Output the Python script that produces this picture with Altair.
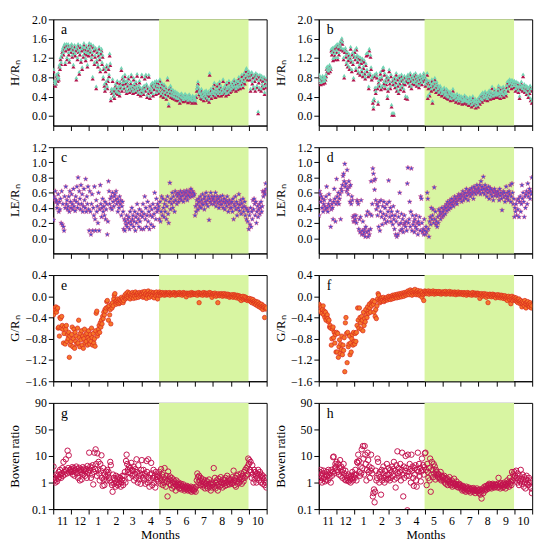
import altair as alt
import pandas as pd

# ---------------- axis / calendar data ----------------
MONTH_LABELS = ["11", "12", "1", "2", "3", "4", "5", "6", "7", "8", "9", "10"]
MONTH_DAYS = [30, 31, 31, 28, 31, 30, 31, 30, 31, 31, 30, 31]
MONTH_START = [0]
for d in MONTH_DAYS:
    MONTH_START.append(MONTH_START[-1] + d)
GROW_START_MONTH = 6   # May
GROW_END_MONTH = 11    # up to Oct 1

# ---------------- panel data (one list per month, Nov..Oct) ----------------
H_A = [
    [0.95, 0.72, 0.68, 0.65, 0.70, 0.85, 0.80, 0.75, 0.88, 0.78, 1.05, 1.00, 1.20, 1.10, 1.25, 1.35, 1.40, 1.30, 1.45, 1.48, 1.10, 1.38, 1.48, 1.20, 1.42, 1.48, 1.30, 1.15, 1.42, 1.45],
    [1.35, 1.48, 1.25, 1.40, 1.05, 1.32, 1.46, 1.28, 1.38, 0.78, 1.42, 1.20, 1.48, 1.35, 0.90, 1.30, 1.45, 1.15, 1.38, 1.00, 1.42, 1.25, 1.50, 1.32, 1.40, 1.18, 1.45, 1.30, 1.05, 1.38, 1.28],
    [1.50, 1.42, 1.35, 1.48, 1.20, 1.30, 0.80, 1.45, 1.38, 1.10, 1.25, 1.40, 0.60, 1.15, 1.35, 1.05, 1.28, 1.42, 1.20, 0.95, 1.32, 1.38, 1.10, 1.25, 0.80, 1.00, 0.65, 0.55, 0.95, 0.70, 1.05],
    [0.60, 0.75, 1.00, 0.85, 1.28, 1.08, 0.35, 0.55, 0.50, 0.75, 0.55, 0.45, 0.40, 0.55, 0.65, 0.50, 0.60, 0.72, 0.48, 0.55, 0.60, 0.45, 0.70, 0.62, 0.98, 0.55, 0.80, 0.68],
    [0.75, 0.60, 0.85, 0.70, 0.55, 0.50, 0.72, 0.65, 0.80, 0.58, 0.52, 0.60, 0.70, 0.85, 0.55, 0.62, 0.50, 0.78, 0.66, 0.58, 0.52, 0.70, 0.60, 0.86, 0.55, 0.48, 0.62, 0.72, 0.58, 0.45, 0.52],
    [0.85, 0.58, 0.52, 0.48, 0.62, 0.80, 0.55, 0.85, 0.65, 0.42, 0.60, 0.50, 0.84, 0.55, 0.40, 0.58, 0.65, 0.52, 0.68, 0.45, 0.62, 0.58, 0.70, 0.65, 0.48, 0.72, 0.55, 0.62, 0.70, 0.50],
    [0.55, 0.75, 0.62, 0.45, 0.68, 0.50, 0.58, 0.42, 0.65, 0.55, 0.48, 0.60, 0.38, 0.52, 0.78, 0.45, 0.24, 0.58, 0.50, 0.62, 0.42, 0.55, 0.48, 0.40, 0.52, 0.45, 0.38, 0.50, 0.44, 0.36, 0.48],
    [0.42, 0.35, 0.45, 0.40, 0.30, 0.44, 0.38, 0.46, 0.36, 0.42, 0.33, 0.40, 0.37, 0.45, 0.34, 0.39, 0.42, 0.36, 0.31, 0.38, 0.44, 0.35, 0.40, 0.33, 0.37, 0.30, 0.41, 0.36, 0.32, 0.38],
    [0.35, 0.30, 0.42, 0.55, 0.62, 0.70, 0.58, 0.48, 0.52, 0.45, 0.40, 0.55, 0.38, 0.48, 0.42, 0.35, 0.50, 0.45, 0.40, 0.52, 0.48, 0.36, 0.44, 0.50, 0.32, 0.88, 0.45, 0.55, 0.40, 0.48, 0.52],
    [0.60, 0.45, 0.68, 0.50, 0.42, 0.55, 0.48, 0.65, 0.52, 0.45, 0.58, 0.70, 0.50, 0.62, 0.45, 0.55, 0.48, 0.75, 0.52, 0.58, 0.62, 0.50, 0.45, 0.68, 0.55, 0.60, 0.48, 0.72, 0.58, 0.52, 0.65],
    [0.55, 0.62, 0.70, 0.58, 0.65, 0.75, 0.60, 0.68, 0.55, 0.72, 0.62, 0.58, 0.70, 0.80, 0.65, 0.60, 0.75, 0.68, 0.85, 0.72, 0.62, 0.78, 0.88, 0.70, 0.82, 0.95, 0.98, 0.85, 0.78, 0.90],
    [0.92, 0.85, 0.78, 0.55, 0.88, 0.90, 0.70, 0.82, 0.60, 0.85, 0.75, 0.55, 0.88, 0.80, 0.62, 0.85, 0.08, 0.72, 0.58, 0.84, 0.78, 0.55, 0.82, 0.65, 0.75, 0.60, 0.80, 0.48, 0.70, 0.62, 0.78],
]

H_B = [
    [0.85, 0.72, 0.80, 0.68, 0.78, 0.75, 0.82, 0.70, 0.76, 0.80, 0.72, 0.78, 0.85, 1.00, 0.95, 1.02, 0.92, 0.98, 1.05, 0.95, 1.00, 1.38, 1.30, 1.40, 1.18, 1.35, 1.42, 1.28, 1.20, 1.45],
    [1.35, 1.48, 1.20, 1.42, 1.30, 1.50, 1.45, 1.55, 1.40, 1.60, 1.52, 1.38, 1.20, 0.82, 1.35, 1.40, 1.25, 1.10, 1.32, 1.05, 1.18, 1.28, 1.00, 1.22, 1.42, 1.15, 0.95, 1.30, 1.10, 0.78, 1.25],
    [1.35, 1.20, 0.98, 1.40, 1.25, 1.15, 0.92, 1.22, 1.05, 0.88, 1.20, 1.12, 0.95, 1.18, 0.85, 1.02, 1.15, 0.90, 0.80, 1.08, 1.28, 0.95, 1.30, 0.85, 0.60, 1.38, 0.88, 1.25, 1.00, 0.78, 0.82],
    [0.30, 0.18, 0.35, 0.85, 0.58, 0.50, 0.88, 0.82, 0.60, 0.28, 0.72, 0.65, 0.78, 0.90, 0.58, 0.80, 0.62, 0.98, 1.00, 0.70, 0.88, 0.60, 0.75, 0.68, 0.82, 0.40, 0.55, 0.78],
    [0.95, 0.70, 0.60, 0.85, 0.22, 0.05, 0.75, 0.68, 0.05, 0.80, 0.62, 0.72, 0.88, 0.55, 0.78, 0.65, 0.50, 0.82, 0.70, 0.58, 0.75, 0.85, 0.62, 0.78, 0.70, 0.55, 0.82, 0.68, 0.40, 0.75, 0.80],
    [0.38, 0.85, 0.72, 0.80, 0.65, 0.88, 0.75, 0.60, 0.82, 0.70, 0.78, 0.85, 0.68, 0.72, 0.88, 0.80, 0.65, 0.75, 0.82, 0.70, 0.62, 0.78, 0.85, 0.72, 0.80, 0.68, 0.75, 0.82, 0.88, 0.78],
    [0.82, 0.65, 0.70, 0.75, 0.88, 0.40, 0.60, 0.72, 0.45, 0.68, 0.62, 0.55, 0.75, 0.30, 0.65, 0.70, 0.58, 0.78, 0.62, 0.52, 0.70, 0.65, 0.55, 0.60, 0.48, 0.58, 0.62, 0.52, 0.55, 0.45, 0.50],
    [0.55, 0.48, 0.58, 0.42, 0.50, 0.45, 0.55, 0.40, 0.52, 0.38, 0.48, 0.44, 0.50, 0.35, 0.42, 0.46, 0.40, 0.55, 0.36, 0.44, 0.38, 0.42, 0.32, 0.40, 0.45, 0.35, 0.38, 0.30, 0.42, 0.36],
    [0.35, 0.40, 0.32, 0.28, 0.38, 0.30, 0.35, 0.42, 0.30, 0.33, 0.38, 0.28, 0.36, 0.30, 0.25, 0.32, 0.38, 0.28, 0.35, 0.22, 0.30, 0.40, 0.25, 0.32, 0.28, 0.35, 0.20, 0.30, 0.26, 0.34, 0.22],
    [0.30, 0.38, 0.28, 0.42, 0.35, 0.45, 0.32, 0.48, 0.40, 0.36, 0.44, 0.50, 0.38, 0.42, 0.46, 0.35, 0.48, 0.40, 0.52, 0.45, 0.38, 0.50, 0.42, 0.60, 0.46, 0.40, 0.48, 0.55, 0.42, 0.50, 0.45],
    [0.48, 0.42, 0.55, 0.62, 0.45, 0.50, 0.40, 0.58, 0.48, 0.52, 0.45, 0.60, 0.42, 0.55, 0.48, 0.50, 0.45, 0.62, 0.70, 0.55, 0.72, 0.65, 0.75, 0.68, 0.72, 0.60, 0.74, 0.66, 0.70, 0.62],
    [0.72, 0.65, 0.55, 0.70, 0.62, 0.58, 0.68, 0.52, 0.60, 0.40, 0.65, 0.58, 0.70, 0.62, 0.55, 0.85, 0.60, 0.65, 0.52, 0.58, 0.62, 0.48, 0.60, 0.55, 0.42, 0.58, 0.50, 0.62, 0.35, 0.55, 0.30],
]

LE_C = [
    [0.24, 0.55, 0.52, 0.62, 0.48, 0.50, 0.40, 0.45, 0.58, 0.35, 0.48, 0.38, 0.52, 0.20, 0.62, 0.18, 0.45, 0.15, 0.10, 0.55, 0.40, 0.68, 0.45, 0.50, 0.38, 0.42, 0.55, 0.35, 0.62, 0.48],
    [0.40, 0.58, 0.45, 0.38, 0.65, 0.42, 0.50, 0.36, 0.55, 0.48, 0.68, 0.40, 0.80, 0.45, 0.62, 0.52, 0.38, 0.70, 0.45, 0.58, 0.35, 0.42, 0.65, 0.50, 0.40, 0.78, 0.35, 0.55, 0.45, 0.68, 0.38],
    [0.10, 0.62, 0.35, 0.05, 0.45, 0.58, 0.10, 0.40, 0.30, 0.68, 0.25, 0.10, 0.50, 0.35, 0.42, 0.20, 0.60, 0.10, 0.38, 0.70, 0.45, 0.28, 0.40, 0.52, 0.35, 0.42, 0.30, 0.48, 0.25, 0.38, 0.45],
    [0.05, 0.22, 0.75, 0.62, 0.45, 0.52, 0.40, 0.55, 0.38, 0.60, 0.48, 0.42, 0.55, 0.58, 0.50, 0.62, 0.45, 0.52, 0.35, 0.48, 0.40, 0.55, 0.45, 0.50, 0.30, 0.42, 0.48, 0.35],
    [0.12, 0.25, 0.10, 0.22, 0.18, 0.30, 0.15, 0.25, 0.20, 0.28, 0.12, 0.35, 0.22, 0.18, 0.40, 0.25, 0.30, 0.15, 0.22, 0.35, 0.10, 0.28, 0.20, 0.45, 0.32, 0.25, 0.15, 0.38, 0.22, 0.30, 0.12],
    [0.35, 0.28, 0.45, 0.12, 0.32, 0.55, 0.25, 0.40, 0.15, 0.30, 0.48, 0.22, 0.35, 0.12, 0.42, 0.30, 0.18, 0.38, 0.28, 0.45, 0.15, 0.32, 0.60, 0.40, 0.25, 0.52, 0.35, 0.45, 0.38, 0.42],
    [0.25, 0.48, 0.22, 0.35, 0.55, 0.30, 0.52, 0.40, 0.28, 0.45, 0.35, 0.50, 0.25, 0.42, 0.55, 0.32, 0.20, 0.48, 0.73, 0.38, 0.52, 0.45, 0.60, 0.40, 0.55, 0.48, 0.35, 0.62, 0.50, 0.58, 0.45],
    [0.55, 0.60, 0.48, 0.58, 0.52, 0.62, 0.55, 0.50, 0.60, 0.56, 0.48, 0.62, 0.58, 0.52, 0.60, 0.55, 0.63, 0.50, 0.58, 0.56, 0.62, 0.54, 0.60, 0.65, 0.58, 0.55, 0.62, 0.60, 0.56, 0.58],
    [0.30, 0.42, 0.35, 0.50, 0.45, 0.38, 0.52, 0.48, 0.42, 0.55, 0.40, 0.50, 0.46, 0.58, 0.44, 0.52, 0.38, 0.55, 0.48, 0.60, 0.45, 0.50, 0.42, 0.55, 0.24, 0.52, 0.48, 0.60, 0.45, 0.55, 0.50],
    [0.52, 0.45, 0.55, 0.48, 0.60, 0.42, 0.50, 0.55, 0.46, 0.52, 0.40, 0.48, 0.55, 0.44, 0.50, 0.45, 0.56, 0.40, 0.48, 0.52, 0.38, 0.46, 0.50, 0.42, 0.55, 0.48, 0.35, 0.45, 0.50, 0.40, 0.46],
    [0.40, 0.48, 0.35, 0.52, 0.25, 0.45, 0.42, 0.55, 0.38, 0.48, 0.30, 0.45, 0.40, 0.58, 0.36, 0.44, 0.50, 0.32, 0.46, 0.40, 0.52, 0.35, 0.42, 0.48, 0.30, 0.40, 0.25, 0.38, 0.22, 0.35],
    [0.12, 0.30, 0.18, 0.40, 0.15, 0.35, 0.25, 0.50, 0.38, 0.52, 0.45, 0.30, 0.48, 0.20, 0.35, 0.42, 0.28, 0.38, 0.45, 0.32, 0.40, 0.48, 0.35, 0.42, 0.62, 0.55, 0.60, 0.62, 0.58, 0.72, 0.65],
]

LE_D = [
    [0.30, 0.62, 0.58, 0.48, 0.55, 0.40, 0.52, 0.35, 0.45, 0.50, 0.42, 0.38, 0.55, 0.68, 0.40, 0.35, 0.45, 0.58, 0.42, 0.50, 0.15, 0.38, 0.45, 0.40, 0.25, 0.48, 0.65, 0.52, 0.22, 0.45],
    [0.78, 0.55, 0.48, 0.60, 0.45, 0.52, 0.58, 0.25, 0.65, 0.62, 0.70, 0.82, 0.85, 0.75, 0.98, 0.68, 0.72, 0.62, 0.90, 0.65, 0.58, 0.75, 0.68, 0.48, 0.70, 0.45, 0.55, 0.50, 0.28, 0.22, 0.30],
    [0.22, 0.25, 0.30, 0.20, 0.50, 0.48, 0.45, 0.12, 0.25, 0.08, 0.28, 0.50, 0.05, 0.10, 0.22, 0.05, 0.08, 0.12, 0.02, 0.15, 0.30, 0.08, 0.35, 0.02, 0.10, 0.05, 0.32, 0.12, 0.75, 0.30, 0.45],
    [0.92, 0.85, 0.76, 0.64, 0.78, 0.50, 0.38, 0.45, 0.30, 0.42, 0.15, 0.48, 0.10, 0.35, 0.50, 0.28, 0.18, 0.42, 0.32, 0.48, 0.25, 0.40, 0.20, 0.30, 0.45, 0.22, 0.35, 0.76],
    [0.48, 0.28, 0.40, 0.22, 0.35, 0.30, 0.18, 0.42, 0.25, 0.12, 0.30, 0.05, 0.22, 0.02, 0.35, 0.05, 0.28, 0.18, 0.60, 0.10, 0.20, 0.32, 0.12, 0.25, 0.08, 0.18, 0.30, 0.20, 0.15, 0.22, 0.10],
    [0.72, 0.93, 0.20, 0.25, 0.48, 0.15, 0.35, 0.92, 0.10, 0.30, 0.18, 0.22, 0.08, 0.25, 0.15, 0.30, 0.12, 0.20, 0.05, 0.22, 0.18, 0.28, 0.10, 0.55, 0.52, 0.20, 0.08, 0.12, 0.05, 0.25],
    [0.10, 0.05, 0.15, 0.08, 0.60, 0.52, 0.12, 0.02, 0.22, 0.28, 0.18, 0.40, 0.25, 0.30, 0.38, 0.20, 0.67, 0.25, 0.35, 0.18, 0.22, 0.15, 0.28, 0.20, 0.38, 0.30, 0.35, 0.25, 0.32, 0.40, 0.28],
    [0.35, 0.30, 0.38, 0.42, 0.32, 0.40, 0.45, 0.36, 0.48, 0.42, 0.38, 0.45, 0.50, 0.40, 0.47, 0.52, 0.44, 0.48, 0.42, 0.50, 0.55, 0.46, 0.52, 0.48, 0.45, 0.55, 0.50, 0.58, 0.52, 0.56],
    [0.52, 0.58, 0.48, 0.55, 0.62, 0.50, 0.58, 0.54, 0.60, 0.52, 0.65, 0.56, 0.60, 0.50, 0.62, 0.58, 0.64, 0.55, 0.60, 0.66, 0.58, 0.62, 0.52, 0.68, 0.60, 0.65, 0.58, 0.62, 0.70, 0.64, 0.60],
    [0.66, 0.62, 0.70, 0.58, 0.75, 0.64, 0.68, 0.60, 0.81, 0.65, 0.58, 0.70, 0.62, 0.66, 0.55, 0.64, 0.60, 0.68, 0.52, 0.62, 0.66, 0.58, 0.64, 0.55, 0.62, 0.50, 0.60, 0.65, 0.56, 0.62, 0.58],
    [0.60, 0.55, 0.62, 0.58, 0.50, 0.65, 0.56, 0.60, 0.52, 0.37, 0.58, 0.62, 0.54, 0.60, 0.48, 0.56, 0.68, 0.52, 0.60, 0.55, 0.50, 0.62, 0.58, 0.70, 0.48, 0.55, 0.72, 0.60, 0.45, 0.52],
    [0.28, 0.40, 0.35, 0.45, 0.30, 0.50, 0.38, 0.52, 0.28, 0.48, 0.55, 0.35, 0.45, 0.70, 0.52, 0.60, 0.48, 0.28, 0.55, 0.40, 0.58, 0.62, 0.45, 0.72, 0.55, 0.60, 0.65, 0.52, 0.62, 0.58, 0.80],
]

G_E = [
    [-0.35, -0.28, -0.22, -0.25, -0.20, -0.30, -0.24, -0.22, -0.60, -0.58, -0.75, -0.40, -0.42, -0.60, -0.38, -0.55, -0.62, -0.88, -0.70, -0.58, -0.90, -0.62, -0.55, -0.85, -0.72, -0.80, -0.68, -1.15, -0.75, -0.92],
    [-0.85, -0.72, -0.58, -0.95, -0.80, -0.62, -0.98, -0.68, -0.85, -0.75, -0.90, -0.60, -0.88, -0.45, -0.78, -0.95, -0.70, -0.82, -0.65, -0.92, -0.75, -0.98, -0.80, -0.62, -0.88, -0.72, -0.85, -0.70, -0.92, -0.78, -0.65],
    [-0.82, -0.90, -0.72, -0.85, -0.60, -0.78, -0.92, -0.70, -0.88, -0.80, -0.94, -0.65, -0.32, -0.28, -0.75, -0.70, -0.62, -0.55, -0.68, -0.50, -0.58, -0.45, -0.52, -0.38, -0.42, -0.30, -0.35, -0.25, -0.28, -0.22, -0.10],
    [-0.08, -0.20, -0.45, -0.18, -0.35, -0.25, -0.52, -0.15, -0.22, -0.12, -0.18, -0.05, 0.02, 0.05, -0.10, -0.15, -0.08, -0.12, -0.05, -0.10, -0.14, -0.06, -0.12, -0.08, -0.02, -0.10, -0.05, -0.12],
    [-0.08, -0.02, 0.02, -0.05, 0.05, -0.03, 0.00, 0.08, -0.02, 0.03, 0.06, -0.05, 0.01, 0.04, -0.02, 0.07, 0.02, -0.04, 0.05, 0.00, 0.08, -0.03, 0.04, 0.02, 0.06, -0.02, 0.03, 0.07, 0.00, 0.05, 0.02],
    [0.04, 0.08, -0.02, 0.06, 0.00, 0.09, 0.03, 0.05, -0.04, 0.07, 0.02, 0.10, 0.04, -0.02, 0.06, 0.03, 0.08, 0.00, 0.05, 0.02, 0.07, -0.03, 0.04, 0.06, 0.01, 0.08, 0.03, -0.05, 0.05, 0.02],
    [0.08, 0.05, 0.02, 0.06, 0.04, 0.07, 0.03, 0.05, 0.06, 0.02, 0.04, 0.07, 0.05, 0.03, 0.06, 0.04, 0.05, 0.07, 0.02, 0.05, 0.06, 0.04, 0.03, 0.06, 0.05, 0.07, 0.04, 0.02, 0.06, 0.05, 0.03],
    [0.06, 0.04, 0.05, 0.07, 0.03, 0.05, 0.06, 0.04, 0.02, 0.05, 0.07, 0.04, 0.06, 0.03, 0.05, -0.01, 0.06, 0.04, 0.05, 0.03, 0.06, 0.05, 0.02, 0.04, 0.07, 0.05, 0.03, 0.06, 0.04, 0.05],
    [0.05, 0.03, 0.06, 0.04, 0.02, 0.05, 0.07, -0.12, 0.06, 0.03, 0.05, 0.04, 0.06, 0.02, 0.05, 0.07, 0.04, 0.03, 0.06, 0.05, 0.02, 0.04, 0.06, 0.03, 0.05, 0.07, 0.04, 0.06, 0.03, -0.02, 0.04],
    [0.05, 0.02, 0.04, 0.06, 0.03, 0.00, 0.04, 0.02, -0.12, 0.05, 0.03, 0.01, 0.04, 0.02, 0.05, 0.03, 0.00, 0.04, 0.02, 0.05, 0.01, 0.03, 0.04, 0.00, 0.02, 0.04, 0.01, 0.03, -0.02, 0.02, 0.00],
    [0.02, 0.00, 0.03, -0.02, 0.01, 0.03, -0.01, 0.02, 0.00, -0.03, 0.02, 0.00, -0.02, 0.01, -0.05, 0.00, -0.02, -0.08, -0.01, -0.04, 0.00, -0.06, -0.03, -0.01, -0.05, -0.02, -0.07, -0.04, -0.08, -0.05],
    [-0.06, -0.04, -0.08, -0.10, -0.05, -0.12, -0.08, -0.06, -0.10, -0.14, -0.09, -0.12, -0.16, -0.10, -0.13, -0.18, -0.11, -0.15, -0.20, -0.14, -0.17, -0.22, -0.15, -0.19, -0.25, -0.18, -0.21, -0.40, -0.20, -0.24, -0.22],
]

G_F = [
    [-0.15, -0.28, -0.18, -0.22, -0.20, -0.32, -0.25, -0.18, -0.35, -0.28, -0.40, -0.30, -0.45, -0.38, -0.35, -0.42, -0.48, -0.45, -0.58, -0.55, -0.60, -0.92, -0.80, -0.62, -0.58, -0.78, -0.68, -0.88, -0.72, -1.05],
    [-0.68, -1.05, -0.70, -1.15, -0.95, -0.82, -1.08, -0.90, -1.00, -0.75, -1.10, -0.92, -1.02, -0.78, -1.42, -0.50, -0.40, -0.70, -1.25, -0.68, -0.95, -0.90, -0.75, -1.10, -0.88, -1.05, -0.80, -0.72, -0.92, -0.68, -0.85],
    [-0.90, -0.70, -0.85, -0.68, -0.55, -0.22, -0.45, -0.60, -0.22, -0.40, -0.50, -0.62, -0.38, -0.45, -0.65, -0.30, -0.55, -0.42, -0.48, -0.25, -0.35, -0.40, -0.20, -0.28, -0.32, -0.15, -0.22, -0.30, -0.12, -0.18, -0.10],
    [-0.08, -0.15, -0.30, -0.10, -0.38, -0.25, -0.42, -0.18, -0.05, 0.05, 0.02, -0.08, -0.12, -0.05, -0.10, -0.03, -0.08, -0.06, -0.02, -0.10, -0.05, -0.08, -0.04, -0.06, -0.02, -0.07, -0.04, 0.00],
    [-0.05, -0.02, -0.06, 0.00, -0.03, -0.05, 0.02, -0.01, -0.04, 0.00, 0.03, -0.02, 0.01, -0.03, 0.04, 0.00, 0.02, -0.02, 0.05, 0.01, 0.03, -0.01, 0.06, 0.02, 0.04, 0.00, 0.07, 0.03, 0.05, 0.02, 0.08],
    [0.04, 0.10, 0.06, 0.03, 0.08, 0.12, 0.05, 0.09, 0.02, 0.07, 0.11, 0.04, 0.08, 0.13, 0.06, 0.03, 0.09, 0.05, 0.11, 0.07, 0.02, 0.08, 0.04, 0.10, 0.06, -0.02, 0.07, 0.03, -0.08, 0.05],
    [0.10, 0.07, 0.09, 0.05, 0.08, 0.06, 0.10, 0.04, 0.08, 0.07, 0.09, 0.05, 0.08, 0.06, 0.10, 0.07, 0.04, 0.08, 0.06, 0.09, 0.05, 0.07, 0.08, 0.06, 0.09, 0.05, 0.07, 0.08, 0.04, 0.06, 0.08],
    [0.06, 0.08, 0.05, 0.07, 0.09, 0.04, 0.06, 0.08, 0.05, 0.07, 0.06, 0.09, 0.04, 0.07, 0.05, 0.08, 0.06, 0.04, 0.07, 0.05, 0.08, 0.06, 0.03, 0.07, 0.05, 0.06, 0.08, 0.04, 0.06, 0.05],
    [0.05, 0.07, 0.04, 0.06, 0.05, 0.03, 0.07, 0.05, 0.04, 0.06, 0.02, 0.05, 0.07, 0.04, 0.06, 0.03, 0.05, 0.04, 0.06, 0.02, 0.05, 0.07, 0.03, 0.05, 0.04, 0.06, 0.02, 0.05, 0.03, 0.06, 0.04],
    [0.05, 0.03, -0.04, 0.04, 0.02, 0.05, 0.00, 0.03, 0.04, 0.01, 0.05, 0.02, 0.03, -0.02, 0.04, 0.01, -0.12, 0.03, 0.00, 0.04, 0.02, 0.03, -0.01, 0.02, 0.04, 0.00, 0.03, 0.01, 0.02, -0.03, 0.02],
    [0.02, 0.00, 0.03, -0.02, 0.01, 0.02, -0.03, 0.00, 0.02, -0.01, 0.01, -0.04, 0.00, -0.02, 0.01, -0.05, -0.01, -0.03, -0.08, -0.02, 0.00, -0.04, -0.06, -0.02, -0.14, -0.05, 0.00, -0.08, -0.03, -0.06],
    [-0.02, -0.05, -0.08, -0.03, -0.10, -0.06, -0.12, -0.08, -0.05, -0.10, -0.14, -0.08, -0.12, -0.20, -0.10, -0.15, -0.12, -0.18, -0.08, -0.14, -0.22, -0.12, -0.16, -0.10, -0.18, -0.14, -0.20, -0.12, -0.16, -0.22, -0.18],
]

BR_G = [
    [4.0, 1.2, 1.5, 1.0, 1.3, 2.0, 1.1, 1.8, 1.4, 2.5, 1.6, 3.0, 2.0, 1.5, 2.2, 3.5, 1.8, 6.0, 2.5, 2.0, 3.0, 7.5, 2.8, 2.2, 18.0, 3.5, 11.0, 2.4, 3.0, 2.6],
    [3.2, 2.5, 3.8, 2.0, 2.8, 3.5, 1.8, 3.0, 2.4, 4.0, 2.2, 3.3, 1.5, 2.8, 3.6, 1.2, 2.5, 3.0, 1.3, 2.2, 3.8, 2.0, 2.9, 3.4, 1.8, 2.6, 3.2, 1.5, 4.2, 2.4, 3.0],
    [15.0, 2.8, 4.0, 1.5, 3.5, 2.0, 4.5, 0.85, 2.5, 15.0, 3.2, 20.0, 5.0, 1.8, 14.0, 3.0, 6.0, 2.2, 1.2, 5.0, 2.8, 11.0, 1.5, 0.75, 3.5, 1.3, 0.8, 2.0, 1.6, 2.6, 1.2],
    [3.0, 2.0, 2.5, 1.5, 1.2, 6.0, 4.5, 1.0, 0.8, 0.45, 2.0, 1.5, 0.9, 1.2, 0.7, 1.8, 1.0, 1.4, 0.8, 1.6, 0.9, 1.2, 1.5, 0.7, 1.0, 1.3, 1.8, 0.8],
    [1.2, 1.8, 2.5, 1.0, 6.5, 12.0, 5.0, 3.0, 2.5, 4.0, 1.5, 3.5, 2.2, 5.5, 3.0, 1.8, 2.8, 4.0, 1.2, 2.0, 3.2, 1.5, 7.5, 2.5, 1.0, 4.5, 1.8, 1.3, 2.2, 0.9, 3.0],
    [7.0, 2.0, 1.5, 3.0, 1.2, 2.2, 0.9, 1.8, 6.5, 2.5, 1.0, 7.5, 1.5, 0.7, 2.0, 1.2, 5.5, 2.2, 0.8, 1.5, 3.0, 1.0, 1.8, 0.65, 2.5, 1.3, 1.6, 2.0, 1.1, 1.8],
    [2.5, 1.5, 0.9, 3.2, 1.2, 2.0, 0.8, 1.6, 1.0, 3.5, 1.3, 0.7, 1.8, 1.1, 0.3, 2.6, 1.4, 0.9, 1.7, 1.2, 0.8, 1.5, 0.6, 1.0, 1.3, 0.7, 1.1, 0.9, 0.5, 1.2, 0.8],
    [0.9, 0.7, 1.0, 0.6, 0.8, 0.65, 0.9, 0.55, 0.75, 0.7, 0.85, 0.6, 0.5, 0.7, 0.65, 0.55, 0.75, 0.6, 0.5, 0.68, 0.55, 0.62, 0.5, 0.7, 0.45, 0.58, 0.52, 0.65, 0.48, 0.55],
    [0.6, 0.45, 0.7, 1.2, 2.2, 1.6, 1.0, 1.8, 1.2, 0.8, 1.5, 0.9, 1.1, 0.7, 1.3, 0.8, 1.0, 0.6, 1.2, 0.9, 0.75, 1.1, 0.6, 0.85, 1.3, 0.7, 0.9, 0.5, 1.0, 0.65, 0.8],
    [0.9, 3.5, 0.7, 1.5, 0.6, 1.0, 1.2, 0.8, 0.5, 1.4, 0.9, 0.7, 1.1, 1.6, 0.8, 1.0, 0.65, 1.3, 0.9, 1.2, 0.75, 1.5, 1.0, 0.8, 1.8, 1.1, 0.9, 1.4, 0.85, 1.2, 1.0],
    [1.3, 0.9, 1.6, 1.0, 2.8, 1.2, 0.8, 1.5, 0.7, 1.8, 1.1, 0.9, 2.0, 1.3, 1.0, 1.6, 1.2, 2.2, 0.9, 1.4, 1.8, 1.1, 2.5, 1.5, 3.0, 1.8, 3.5, 2.0, 4.0, 8.0],
    [5.0, 7.0, 3.0, 6.0, 2.5, 1.5, 4.5, 2.0, 1.0, 3.0, 1.3, 2.5, 1.8, 1.0, 2.2, 1.5, 3.0, 2.0, 1.2, 2.5, 1.8, 1.0, 2.0, 1.5, 0.9, 1.7, 1.2, 0.8, 1.5, 1.0, 0.65],
]

BR_H = [
    [1.5, 2.5, 1.2, 3.0, 1.8, 1.0, 2.2, 1.4, 2.8, 1.6, 1.1, 2.0, 1.3, 2.5, 1.8, 1.2, 3.0, 2.0, 1.5, 2.4, 1.0, 3.0, 1.8, 2.5, 9.0, 9.5, 2.2, 3.5, 5.0, 4.0],
    [6.0, 3.0, 2.5, 5.0, 2.0, 3.5, 7.0, 1.8, 4.0, 2.5, 1.5, 3.0, 5.0, 2.2, 1.3, 2.8, 1.2, 1.8, 1.5, 1.2, 2.0, 1.1, 1.6, 1.3, 1.0, 1.8, 1.4, 2.5, 1.2, 1.6, 2.0],
    [1.5, 3.0, 2.0, 1.2, 6.0, 5.5, 12.0, 6.5, 2.5, 1.8, 4.0, 2.2, 20.0, 3.5, 25.0, 8.0, 2.0, 25.0, 12.0, 5.0, 1.2, 3.0, 15.0, 7.0, 2.5, 4.0, 1.5, 2.8, 12.0, 3.5, 2.2],
    [0.3, 0.4, 0.55, 0.18, 0.45, 2.8, 1.2, 1.5, 8.0, 6.0, 2.0, 1.0, 2.5, 1.6, 0.35, 3.0, 1.2, 2.2, 4.0, 1.5, 1.0, 2.8, 1.8, 1.3, 5.0, 2.0, 1.4, 3.5],
    [2.0, 1.2, 3.0, 1.5, 2.5, 4.0, 1.8, 3.2, 6.0, 1.3, 2.8, 0.65, 4.5, 1.5, 17.0, 2.2, 3.5, 1.8, 2.5, 5.0, 1.2, 3.0, 15.0, 2.0, 0.3, 4.0, 1.5, 2.8, 10.0, 3.5, 1.8],
    [0.09, 12.0, 2.5, 1.8, 5.0, 3.2, 1.0, 12.0, 2.8, 4.0, 1.5, 0.75, 3.5, 2.0, 4.5, 1.2, 0.7, 3.0, 15.0, 2.5, 5.0, 1.8, 3.5, 1.1, 2.6, 8.0, 3.0, 4.5, 2.0, 3.8],
    [14.0, 15.0, 3.0, 0.8, 5.0, 2.5, 1.5, 3.5, 1.2, 8.0, 0.45, 2.0, 6.0, 3.0, 1.6, 5.0, 2.2, 4.0, 1.3, 3.0, 2.5, 1.8, 2.2, 1.5, 2.0, 1.6, 1.4, 2.5, 1.2, 1.8, 1.5],
    [1.6, 1.2, 1.8, 1.0, 1.4, 0.9, 1.5, 1.2, 0.8, 1.3, 1.1, 1.6, 0.9, 1.0, 0.8, 1.2, 0.7, 1.0, 0.9, 1.4, 0.75, 0.9, 0.8, 1.1, 0.7, 0.85, 0.65, 0.8, 0.9, 0.7],
    [0.8, 0.6, 0.7, 0.5, 0.75, 0.55, 0.65, 0.5, 0.6, 0.45, 0.7, 0.55, 0.6, 0.48, 0.65, 0.5, 0.58, 0.42, 0.55, 0.6, 0.5, 0.45, 0.62, 0.5, 0.55, 0.4, 0.52, 0.48, 0.6, 0.45, 0.5],
    [0.5, 0.4, 0.55, 0.35, 0.45, 0.25, 0.5, 0.6, 0.4, 0.55, 0.7, 0.5, 0.6, 0.75, 0.55, 0.65, 0.8, 0.6, 0.9, 0.7, 0.65, 0.85, 0.6, 0.75, 0.9, 0.7, 0.8, 0.65, 0.85, 0.7, 0.8],
    [0.8, 0.65, 0.9, 1.5, 0.7, 0.85, 0.6, 0.95, 0.75, 0.8, 0.65, 0.9, 0.7, 1.0, 0.8, 0.6, 0.9, 0.75, 1.2, 0.85, 1.0, 0.7, 1.5, 0.9, 1.1, 0.8, 2.5, 1.2, 2.0, 1.5],
    [2.5, 1.8, 1.2, 2.8, 1.5, 1.0, 2.2, 1.3, 0.8, 1.8, 1.1, 3.0, 1.4, 0.9, 2.0, 1.2, 0.7, 1.6, 1.0, 0.6, 1.3, 1.8, 0.9, 1.2, 0.8, 1.5, 1.0, 0.7, 1.2, 0.6, 0.4],
]

# ---------------- styling ----------------
FONT = "Liberation Serif"
GREEN = "#d8f5a2"
TEAL = "#74d4b4"
CRIMSON = "#b3164e"
STAR_FILL = "#3d50d8"
STAR_STROKE = "#d83a78"
G_FILL = "#f5772a"
G_STROKE = "#d9261f"
BR_STROKE = "#c3124f"
STAR = ("M0,-1L0.235,-0.324L0.951,-0.309L0.380,0.124L0.588,0.809L0,0.4"
        "L-0.588,0.809L-0.380,0.124L-0.951,-0.309L-0.235,-0.324Z")

W, H = 217, 108


def to_df(months):
    xs, vs = [], []
    for m, vals in enumerate(months):
        start, n = MONTH_START[m], MONTH_DAYS[m]
        for i, v in enumerate(vals):
            xs.append(start + (i + 0.5) * n / len(vals))
            vs.append(v)
    return pd.DataFrame({"day": xs, "v": vs})


month_expr = "[" + ",".join("'%s'" % s for s in MONTH_LABELS + [""]) + "][indexof([" + \
    ",".join(str(s) for s in MONTH_START) + "], datum.value)]"

band_df = pd.DataFrame({"s": [MONTH_START[GROW_START_MONTH]], "e": [MONTH_START[GROW_END_MONTH]]})
XSCALE = alt.Scale(domain=[0, MONTH_START[-1]], nice=False, zero=False)


def x_axis(bottom):
    kw = dict(values=MONTH_START, tickSize=5, grid=False, labels=bottom)
    if bottom:
        kw.update(title="Months", labelExpr=month_expr, labelOffset=9, labelFlush=False,
                  labelOverlap=False, labelPadding=2, titlePadding=2)
    else:
        kw.update(title="")
    return alt.Axis(**kw)


def y_axis(title, values, bowen=False):
    kw = dict(values=values, tickSize=5, grid=False, title=title, titlePadding=3,
              labelPadding=2, minExtent=29, maxExtent=29)
    if bowen:
        kw["labelExpr"] = "['0.1','1','10','50','90'][datum.value + 1]"
    else:
        kw["format"] = ".1f"
    return alt.Axis(**kw)


def panel(letter, months, kind, bottom):
    df = to_df(months)
    xa = x_axis(bottom)
    X = alt.X("day:Q", scale=XSCALE, axis=xa)
    band = alt.Chart(band_df).mark_rect(color=GREEN).encode(
        x=alt.X("s:Q", scale=XSCALE, axis=xa), x2="e:Q")
    base = alt.Chart(df)
    if kind == "H":
        ys = alt.Scale(domain=[-0.2, 2.0], nice=False, zero=False)
        ya = y_axis("H/Rₙ", [0, 0.4, 0.8, 1.2, 1.6, 2.0])
        Y = alt.Y("v:Q", scale=ys, axis=ya)
        pts = [
            base.mark_point(shape="triangle-up", filled=True, size=18, color=CRIMSON,
                            opacity=1, yOffset=1.5, clip=True).encode(x=X, y=Y),
            base.mark_point(shape="triangle-up", filled=True, size=16, color=TEAL,
                            opacity=1, yOffset=-0.8, clip=True).encode(x=X, y=Y),
        ]
    elif kind == "LE":
        ys = alt.Scale(domain=[-0.2, 1.2], nice=False, zero=False)
        ya = y_axis("LE/Rₙ", [0, 0.2, 0.4, 0.6, 0.8, 1.0, 1.2])
        Y = alt.Y("v:Q", scale=ys, axis=ya)
        pts = [base.mark_point(shape=STAR, filled=True, size=26, fill=STAR_FILL,
                               stroke=STAR_STROKE, strokeWidth=0.45, opacity=1,
                               clip=True).encode(x=X, y=Y)]
    elif kind == "G":
        ys = alt.Scale(domain=[-1.6, 0.4], nice=False, zero=False)
        ya = y_axis("G/Rₙ", [-1.6, -1.2, -0.8, -0.4, 0.0, 0.4])
        Y = alt.Y("v:Q", scale=ys, axis=ya)
        pts = [base.mark_point(shape="circle", filled=True, size=20, fill=G_FILL,
                               stroke=G_STROKE, strokeWidth=0.7, opacity=1,
                               clip=True).encode(x=X, y=Y)]
    else:
        ys = alt.Scale(domain=[-1, 3], nice=False, zero=False)
        ya = y_axis("Bowen ratio", [-1, 0, 1, 2, 3], bowen=True)
        Y = alt.Y("t:Q", scale=ys, axis=ya)
        pts = [base.transform_calculate(
            t="datum.v <= 10 ? log(datum.v) / LN10 : (datum.v <= 50 ? 1 + (datum.v - 10) / 40 : 2 + (datum.v - 50) / 40)"
        ).mark_point(shape="circle", filled=False, size=30, stroke=BR_STROKE,
                     strokeWidth=1.0, opacity=1, clip=True).encode(x=X, y=Y)]
    txt = alt.Chart(pd.DataFrame({"k": [0]})).mark_text(
        align="left", baseline="top", font=FONT, fontSize=14, color="black"
    ).encode(x=alt.value(8), y=alt.value(4), text=alt.value(letter))
    return alt.layer(band, *pts, txt).properties(width=W, height=H)


panels = [
    panel("a", H_A, "H", False), panel("b", H_B, "H", False),
    panel("c", LE_C, "LE", False), panel("d", LE_D, "LE", False),
    panel("e", G_E, "G", False), panel("f", G_F, "G", False),
    panel("g", BR_G, "BR", True), panel("h", BR_H, "BR", True),
]

chart = alt.concat(*panels, columns=2, spacing={"row": 22, "column": 53},
                   bounds="flush").properties(
    padding=0
).configure_axis(
    labelFont=FONT, labelFontSize=12, labelColor="black",
    titleFont=FONT, titleFontSize=13, titleFontWeight="normal", titleColor="black",
    domainColor="black", tickColor="black", domainWidth=1, tickWidth=1,
).configure_view(stroke="black", strokeWidth=1)

chart.save("out.html", embed_options={"renderer": "svg", "actions": False})
